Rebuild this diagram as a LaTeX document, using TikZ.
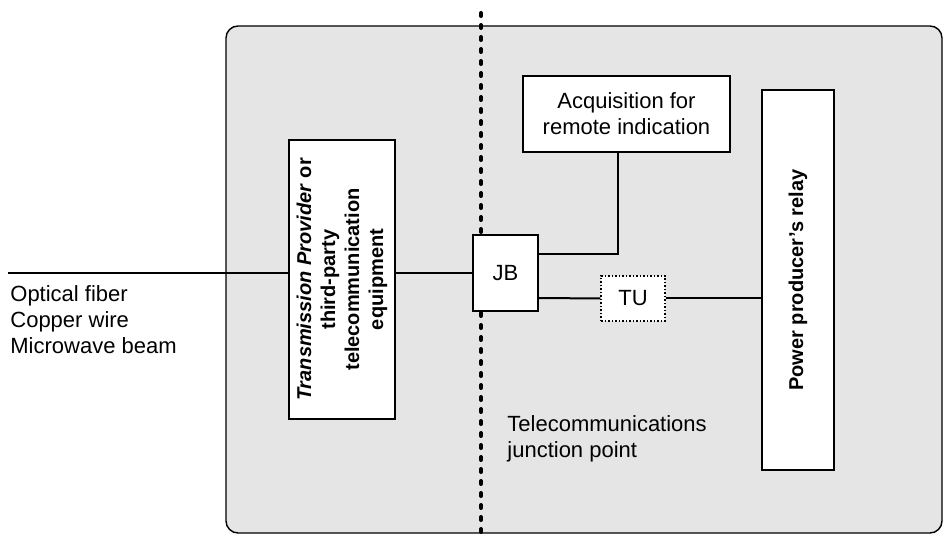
\documentclass[tikz,border=0pt]{standalone}
\usepackage{fontspec}
\setmainfont{Liberation Sans}
\usetikzlibrary{positioning}
\tikzset{
    box/.style = {draw, fill = white, line width = 0.75pt, inner sep = 1pt, align = center},
    boldbox/.style = {box, font = \bfseries\fontsize{10}{12}\selectfont},
    wire/.style = {line width = 1pt},
    label/.style = {inner sep = 0pt, align = left, anchor = base west}
}
\begin{document}
\begin{tikzpicture}[x = 0.5pt, y = -0.5pt, every node/.append style = {font = \fontsize{11}{13}\selectfont}]
    \useasboundingbox (0,0) rectangle (943,539);
    % station area
    \draw[fill = gray!20, line width = 0.7pt, rounded corners = 6pt] (226,26) rectangle (942,533);
    \draw[line width = 2pt, line cap = round, dash pattern = on 1.5pt off 4.5pt] (481,13) -- (481,539);
    % equipment
    \node[boldbox, rotate = 90, minimum width = 139.5pt, minimum height = 53pt] (trans) at (342,279.5)
        {\textit{Transmission Provider} or\\ third-party\\ telecommunication\\ equipment};
    \node[box, minimum width = 32.5pt, minimum height = 38pt] (jb) at (505.5,273) {JB};
    \node[box, densely dotted, minimum width = 32pt, minimum height = 22.5pt] (tu) at (633,298.5) {TU};
    \node[box, minimum width = 103.5pt, minimum height = 38pt] (acq) at (626.5,114) {Acquisition for\\ remote indication};
    \node[boldbox, line width = 1.2pt, rotate = 90, minimum width = 190pt, minimum height = 36pt] (relay) at (798,280)
        {Power producer's relay};
    % links
    \coordinate (line) at (8,273);
    \draw[wire] (line) -- (line -| trans.north);
    \draw[wire] (line -| trans.south) -- (jb.west);
    \draw[wire] ([yshift = 9.5pt]jb.east) -| ([xshift = -4.25pt]acq.south);
    \draw[wire] ([yshift = -12.5pt]jb.east) -- (tu.west);
    \draw[wire] (tu.east) -- (relay.north |- tu.east);
    % texts
    \node[label] (media) at (10,354) {Optical fiber\\ Copper wire\\ Microwave beam};
    \node[label] (point) at (507,458) {Telecommunications\\ junction point};
\end{tikzpicture}
\end{document}
